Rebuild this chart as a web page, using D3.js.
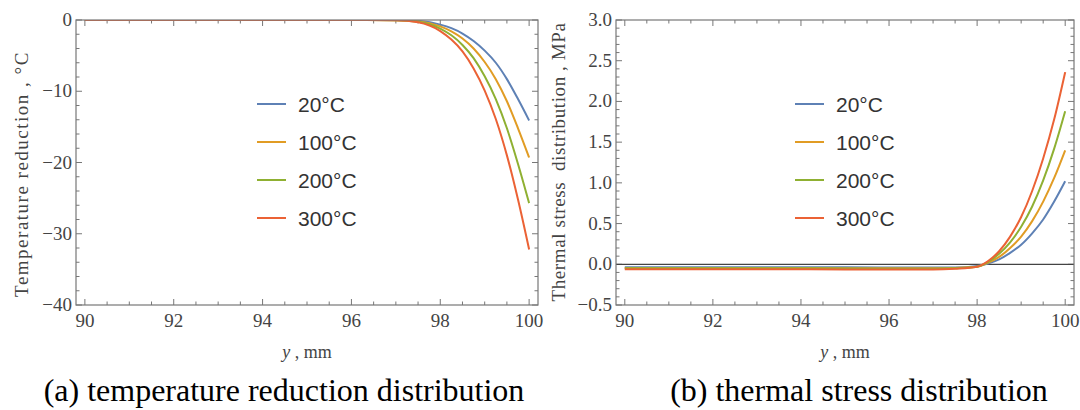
<!DOCTYPE html>
<html>
<head>
<meta charset="utf-8">
<script src="https://cdn.jsdelivr.net/npm/d3@7"></script>
<style>
  body { margin: 0; background: #fff; }
  svg { display: block; }
</style>
</head>
<body>
<svg id="chart" width="1080" height="410"></svg>
<script>
// depth positions (mm) shared by all curves
const depth = [90, 92, 94, 96, 97, 97.5, 98, 98.25, 98.5, 98.75, 99, 99.25, 99.5, 99.75, 100];

const legendLabels = ['20°C', '100°C', '200°C', '300°C'];
const colors = ['#5E81B5', '#E19C24', '#8FB032', '#EB6235'];

// (a) temperature reduction, °C
const temp20  = [0, 0, 0, 0, -0.01, -0.12, -0.65, -1.15, -1.9, -2.95, -4.3, -6.0, -8.3, -11.1, -14.1];
const temp100 = [0, 0, 0, 0, -0.02, -0.18, -0.9, -1.6, -2.6, -4.0, -5.9, -8.3, -11.4, -15.2, -19.3];
const temp200 = [0, 0, 0, 0, -0.03, -0.24, -1.2, -2.15, -3.5, -5.35, -7.9, -11.1, -15.2, -20.2, -25.7];
const temp300 = [0, 0, 0, 0, -0.04, -0.32, -1.55, -2.75, -4.4, -6.8, -9.9, -13.9, -19.0, -25.2, -32.2];

// (b) thermal stress, MPa
const stress20  = [-0.035, -0.035, -0.035, -0.04, -0.04, -0.04, -0.02, 0.01, 0.06, 0.14, 0.24, 0.38, 0.55, 0.77, 1.02];
const stress100 = [-0.045, -0.045, -0.045, -0.05, -0.05, -0.045, -0.03, 0.02, 0.09, 0.2, 0.34, 0.53, 0.77, 1.06, 1.40];
const stress200 = [-0.05, -0.05, -0.05, -0.055, -0.055, -0.05, -0.03, 0.03, 0.13, 0.27, 0.46, 0.71, 1.03, 1.42, 1.88];
const stress300 = [-0.06, -0.06, -0.06, -0.065, -0.065, -0.055, -0.03, 0.04, 0.16, 0.34, 0.58, 0.9, 1.3, 1.78, 2.36];

const xTicks = [90, 92, 94, 96, 98, 100];
const tempTicks = [0, -10, -20, -30, -40];
const stressTicks = [3.0, 2.5, 2.0, 1.5, 1.0, 0.5, 0.0, -0.5];

const svg = d3.select('#chart');
const serif = '"Liberation Serif", "Times New Roman", serif';
const sans = '"Liberation Sans", Arial, sans-serif';
const fmtMinus = s => s.replace('-', '\u2212');

const panels = [
    {
        id: 'a', left: 76, right: 538, top: 20, bottom: 305,
        yDomain: [-40, 0], yTicks: tempTicks, yMinor: 2, yFmt: d => fmtMinus(String(d)),
        series: [temp20, temp100, temp200, temp300],
        yTitle: 'Temperature reduction , \u00B0C', yTitleX: 21, yTitleY: 174, yTitleLs: 1.5,
        legendX: 257, caption: '(a) temperature reduction distribution', captionX: 284,
        zeroLine: false
    },
    {
        id: 'b', left: 616, right: 1074, top: 20, bottom: 305,
        yDomain: [-0.5, 3.0], yTicks: stressTicks, yMinor: 0.1, yFmt: d => fmtMinus(d3.format('.1f')(d)),
        series: [stress20, stress100, stress200, stress300],
        yTitle: 'Thermal stress\u00A0 distribution , MPa', yTitleX: 558, yTitleY: 162, yTitleLs: 0.6,
        legendX: 795, caption: '(b) thermal stress distribution', captionX: 859,
        zeroLine: true
    }
];

panels.forEach(p => {
    const x = d3.scaleLinear().domain([89.8, 100.2]).range([p.left, p.right]);
    const y = d3.scaleLinear().domain(p.yDomain).range([p.bottom, p.top]);
    const g = svg.append('g');

    g.append('clipPath').attr('id', 'clip-' + p.id)
        .append('rect')
        .attr('x', p.left).attr('y', p.top)
        .attr('width', p.right - p.left).attr('height', p.bottom - p.top);

    // minor / major ticks, inward on all four sides
    const tickCol = '#777';
    const xMinor = d3.range(90, 100.01, 0.5);
    xMinor.forEach(v => {
        const major = xTicks.includes(v);
        const len = major ? 6 : 3.5;
        g.append('line').attr('x1', x(v)).attr('x2', x(v))
            .attr('y1', p.bottom).attr('y2', p.bottom - len).attr('stroke', tickCol);
        g.append('line').attr('x1', x(v)).attr('x2', x(v))
            .attr('y1', p.top).attr('y2', p.top + len).attr('stroke', tickCol);
    });
    const yMinor = d3.range(p.yDomain[0], p.yDomain[1] + 1e-9, p.yMinor).map(v => +v.toFixed(3));
    yMinor.forEach(v => {
        const major = p.yTicks.some(t => Math.abs(t - v) < 1e-6);
        const len = major ? 6 : 3.5;
        g.append('line').attr('y1', y(v)).attr('y2', y(v))
            .attr('x1', p.left).attr('x2', p.left + len).attr('stroke', tickCol);
        g.append('line').attr('y1', y(v)).attr('y2', y(v))
            .attr('x1', p.right).attr('x2', p.right - len).attr('stroke', tickCol);
    });

    if (p.zeroLine) {
        g.append('line')
            .attr('x1', p.left).attr('x2', p.right)
            .attr('y1', y(0)).attr('y2', y(0))
            .attr('stroke', '#444').attr('stroke-width', 1.2);
    }

    const line = d3.line()
        .x((d, i) => x(depth[i]))
        .y(d => y(d))
        .curve(d3.curveMonotoneX);

    const curves = g.append('g').attr('clip-path', `url(#clip-${p.id})`);
    curves.selectAll('path')
        .data(p.series)
        .enter()
        .append('path')
        .attr('d', line)
        .attr('fill', 'none')
        .attr('stroke', (d, i) => colors[i])
        .attr('stroke-width', 2);

    // frame
    g.append('rect')
        .attr('x', p.left).attr('y', p.top)
        .attr('width', p.right - p.left).attr('height', p.bottom - p.top)
        .attr('fill', 'none').attr('stroke', '#777').attr('stroke-width', 1.2);

    // tick labels
    g.selectAll('.xl').data(xTicks).enter().append('text')
        .attr('x', d => x(d)).attr('y', p.bottom + 22)
        .attr('text-anchor', 'middle')
        .style('font-family', serif).style('font-size', '19px').style('fill', '#444')
        .text(d => d);
    g.selectAll('.yl').data(p.yTicks).enter().append('text')
        .attr('x', p.left - 4).attr('y', d => y(d) + 6)
        .attr('text-anchor', 'end')
        .style('font-family', serif).style('font-size', '19px').style('fill', '#444')
        .text(p.yFmt);

    // axis titles
    const xt = g.append('text')
        .attr('x', (p.left + p.right) / 2).attr('y', 358)
        .attr('text-anchor', 'middle')
        .style('font-family', serif).style('font-size', '18px').style('fill', '#444');
    xt.append('tspan').style('font-style', 'italic').text('y');
    xt.append('tspan').text(' , mm');

    g.append('text')
        .attr('transform', `translate(${p.yTitleX},${p.yTitleY}) rotate(-90)`)
        .attr('text-anchor', 'middle')
        .attr('dy', '0.35em')
        .style('font-family', serif).style('font-size', '19px').style('fill', '#444')
        .style('letter-spacing', p.yTitleLs + 'px')
        .text(p.yTitle);

    // legend
    const leg = g.selectAll('.leg').data(legendLabels).enter().append('g')
        .attr('transform', (d, i) => `translate(${p.legendX}, ${104 + i * 38})`);
    leg.append('line').attr('x1', 0).attr('x2', 29)
        .attr('stroke', (d, i) => colors[i]).attr('stroke-width', 2);
    leg.append('text').attr('x', 41).attr('dy', '0.36em')
        .style('font-family', sans).style('font-size', '21px').style('fill', '#333')
        .text(d => d);

    // caption
    g.append('text')
        .attr('x', p.captionX).attr('y', 401)
        .attr('text-anchor', 'middle')
        .style('font-family', serif).style('font-size', '32px').style('fill', '#000')
        .text(p.caption);
});
</script>
</body>
</html>
